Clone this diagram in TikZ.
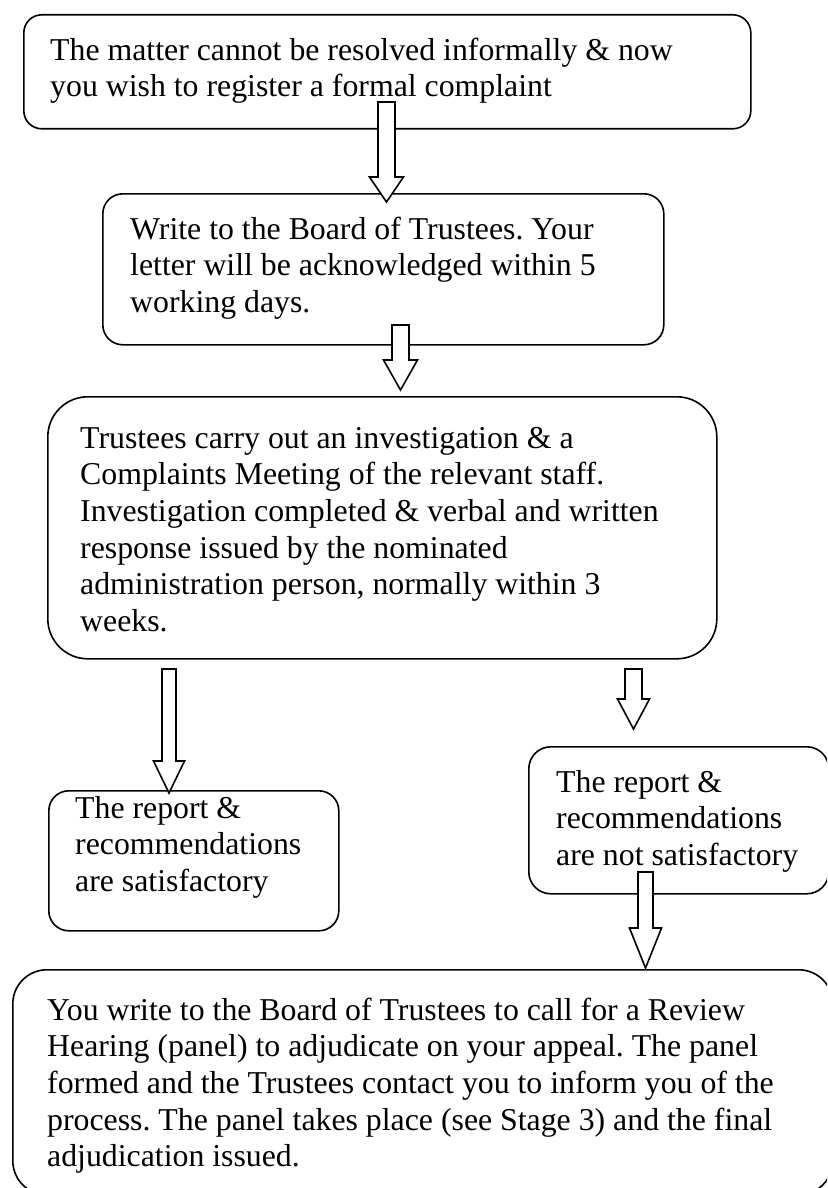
\documentclass[tikz,border=0pt]{standalone}
\usepackage{fontspec}
\setmainfont{Liberation Serif}
\frenchspacing
\newcommand\blockarrow[6]{% cx, top, headstart, tip, shaft half, head half
  \draw[arrowbox] ({#1-#5},#2) -- ({#1+#5},#2) -- ({#1+#5},#3) -- ({#1+#6},#3)
    -- (#1,#4) -- ({#1-#6},#3) -- ({#1-#5},#3) -- cycle;}
\begin{document}
\begin{tikzpicture}[x=1pt,y=-1pt,
  box/.style={draw=black, line width=1.6pt, anchor=north west, inner sep=0pt},
  txt/.style={anchor=north west, inner sep=0pt, align=left,
    font=\fontsize{31.8}{36.6}\selectfont\frenchspacing},
  arrowbox/.style={draw=black, fill=white, line width=1.6pt, line join=miter}]
\useasboundingbox (0,0) rectangle (827,1188);
\clip (0,0) rectangle (827,1188);
\fill[white] (0,0) rectangle (827,1188);
% boxes
\node[box, minimum width=727pt, minimum height=114pt, rounded corners=18pt] (b1) at (23,14) {};
\node[box, minimum width=561pt, minimum height=151pt, rounded corners=20pt] (b2) at (102,193) {};
\node[box, minimum width=669pt, minimum height=262pt, rounded corners=40pt] (b3) at (47,396) {};
\node[box, minimum width=290pt, minimum height=140pt, rounded corners=20pt] (b4) at (48,790) {};
\node[box, minimum width=300pt, minimum height=147pt, rounded corners=22pt] (b5) at (528,746) {};
\node[box, minimum width=820pt, minimum height=225pt, rounded corners=34pt] (b6) at (12,969) {};
% texts
\node[txt] (t1) at (50,34.4) {\strut The matter cannot be resolved informally \& now\\you wish to register a formal complaint};
\node[txt] (t2) at (130,213.4) {\strut Write to the Board of Trustees. Your\\letter will be acknowledged within 5\\working days.};
\node[txt] (t3) at (80,422.4) {\strut Trustees carry out an investigation \& a\\Complaints Meeting of the relevant staff.\\Investigation completed \& verbal and written\\response issued by the nominated\\administration person, normally within 3\\weeks.};
\node[txt] (t4) at (75,792.4) {\strut The report \&\\recommendations\\are satisfactory};
\node[txt] (t5) at (556,766.4) {\strut The report \&\\recommendations\\are not satisfactory};
\node[txt] (t6) at (47,994.4) {\strut You write to the Board of Trustees to call for a Review\\Hearing (panel) to adjudicate on your appeal. The panel\\formed and the Trustees contact you to inform you of the\\process. The panel takes place (see Stage 3) and the final\\adjudication issued.};
% block arrows
\blockarrow{386.5}{102}{177}{202}{8.5}{17}
\blockarrow{400.5}{325}{360}{390}{8.5}{17}
\blockarrow{169}{669}{761}{793}{7}{15.5}
\blockarrow{633.5}{669}{699}{729}{8.5}{16}
\blockarrow{645.5}{872}{928}{968}{7.5}{16}
\end{tikzpicture}
\end{document}
